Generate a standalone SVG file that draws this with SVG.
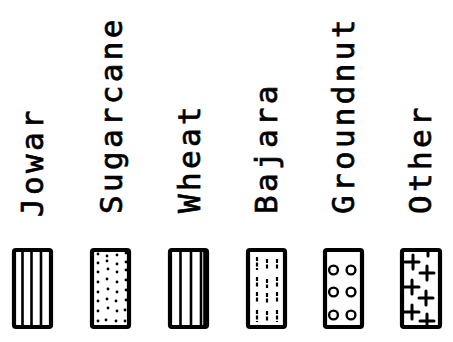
<svg xmlns="http://www.w3.org/2000/svg" width="453" height="342" viewBox="0 0 453 342">
<style>
.lbl{font-family:"DejaVu Sans Mono","Liberation Mono",monospace;font-size:31px;fill:#000;stroke:#000;stroke-width:0.7;letter-spacing:3.3px}
.box{fill:#fff;stroke:#000;stroke-width:4.2;stroke-linejoin:round}
.ln{stroke:#000;stroke-width:2.6;fill:none}
.dash{stroke:#000;stroke-width:2.2;fill:none;stroke-dasharray:4 1.5}
.ring{fill:none;stroke:#000;stroke-width:2.4}
.pl{stroke:#000;stroke-width:3;fill:none;stroke-linecap:round}
.dot{fill:#000}
</style>
<rect width="453" height="342" fill="#fff"/>
<g id="jowar">
<text class="lbl" transform="translate(43,217) rotate(-90)">Jowar</text>
<rect class="box" x="14" y="250" width="37" height="77" rx="2"/>
<path class="ln" d="M22.5 250V327M31.5 250V327M41 250V327"/>
</g>
<g id="sugarcane">
<text class="lbl" transform="translate(122,214) rotate(-90)">Sugarcane</text>
<rect class="box" x="92" y="250" width="37" height="77" rx="2"/>
<g class="dot">
<circle cx="98" cy="254" r="1.4"/><circle cx="107" cy="256" r="1.4"/><circle cx="117" cy="255" r="1.4"/><circle cx="126" cy="253" r="1.4"/>
<circle cx="98" cy="263" r="1.4"/><circle cx="107" cy="261" r="1.4"/><circle cx="117" cy="264" r="1.4"/><circle cx="126" cy="262" r="1.4"/>
<circle cx="98" cy="272" r="1.4"/><circle cx="108" cy="269" r="1.4"/><circle cx="117" cy="272" r="1.4"/><circle cx="126" cy="270" r="1.4"/>
<circle cx="98" cy="282" r="1.4"/><circle cx="107" cy="279" r="1.4"/><circle cx="117" cy="282" r="1.4"/><circle cx="126" cy="280" r="1.4"/>
<circle cx="98" cy="292" r="1.4"/><circle cx="108" cy="289" r="1.4"/><circle cx="117" cy="292" r="1.4"/><circle cx="126" cy="290" r="1.4"/>
<circle cx="98" cy="301" r="1.4"/><circle cx="107" cy="299" r="1.4"/><circle cx="116" cy="301" r="1.4"/><circle cx="126" cy="300" r="1.4"/>
<circle cx="98" cy="311" r="1.4"/><circle cx="108" cy="308" r="1.4"/><circle cx="117" cy="311" r="1.4"/><circle cx="125" cy="310" r="1.4"/>
<circle cx="98" cy="321" r="1.4"/><circle cx="106" cy="320" r="1.4"/><circle cx="116" cy="321" r="1.4"/><circle cx="125" cy="321" r="1.4"/>
</g>
</g>
<g id="wheat">
<text class="lbl" transform="translate(200,213) rotate(-90)">Wheat</text>
<rect class="box" x="170" y="250" width="37" height="77" rx="2"/>
<path class="ln" d="M180.5 250V327M191 250V327M201 250V327M204.5 250V327"/>
</g>
<g id="bajara">
<text class="lbl" transform="translate(277,214) rotate(-90)">Bajara</text>
<rect class="box" x="248" y="250" width="37" height="77" rx="2"/>
<path class="dash" d="M257 257V270M267 259V270M277 259V270M257 277V288M267 279V288M277 277V288M257 292V303M267 293V303M277 292V303M257 310V322M267 311V322M277 310V322"/>
</g>
<g id="groundnut">
<text class="lbl" transform="translate(354,214) rotate(-90)">Groundnut</text>
<rect class="box" x="325" y="250" width="37" height="77" rx="2"/>
<circle class="ring" cx="333.5" cy="270" r="4.4"/><circle class="ring" cx="351" cy="270" r="4.4"/>
<circle class="ring" cx="333.5" cy="292" r="4.4"/><circle class="ring" cx="351" cy="292" r="4.4"/>
<circle class="ring" cx="333.5" cy="315" r="4.4"/><circle class="ring" cx="351" cy="315" r="4.4"/>
</g>
<g id="other">
<text class="lbl" transform="translate(431,214) rotate(-90)">Other</text>
<rect class="box" x="402" y="250" width="38" height="77" rx="2"/>
<path class="pl" d="M428 251V256M405 262H419M413 255V269M420 273H434M427 266V280M404 287H419M412 280V294M419 298H433M426 291V305M404 312H419M412 305V319M420 321H434M427 314V326"/>
</g>
</svg>
